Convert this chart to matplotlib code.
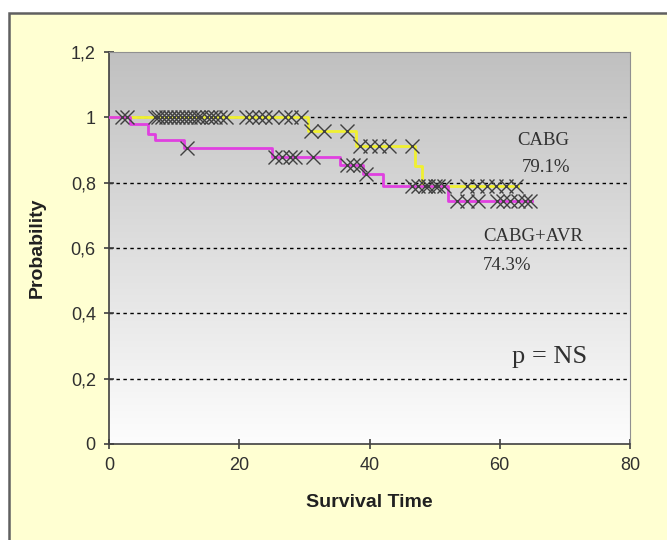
import numpy as np
import matplotlib
matplotlib.use("Agg")
import matplotlib.pyplot as plt
from matplotlib.colors import LinearSegmentedColormap
from matplotlib.patches import Rectangle
from matplotlib.ticker import FuncFormatter

# Kaplan-Meier steps: (time, survival after the drop)
cabg_t = [0, 30.5, 38, 47, 48, 62.8]
cabg_s = [1.0, 0.957, 0.913, 0.85, 0.791, 0.791]
avr_t = [0, 3.2, 6, 7, 11.5, 25, 35.5, 39, 42, 52, 65]
avr_s = [1.0, 0.98, 0.95, 0.93, 0.905, 0.88, 0.855, 0.825, 0.79, 0.743, 0.743]

# censored observations
cabg_cens_t = [2, 2.8, 7, 7.6, 8.2, 8.8, 9.4, 10, 10.6, 11.2, 11.8, 12.4,
               13, 13.6, 14.2, 15, 15.6, 16.2, 17, 18, 21, 22, 23, 24, 25,
               27, 28, 29.5, 31, 33, 36.5, 38.5, 40, 41.5, 43, 46.5,
               49, 50.5, 55, 56.5, 58, 59.5, 61, 62.5]
avr_cens_t = [12, 25.5, 26.5, 27.8, 28.6, 31.3, 36.5, 37.5, 38.5, 39.5,
              46.5, 47.5, 48.5, 50, 51.5, 53.5, 55, 56.7, 59.6, 60.5, 61.6,
              62.8, 63.9, 64.7]


def surv_at(ts, ss, t):
    idx = np.searchsorted(ts, t, side="right") - 1
    return ss[max(idx, 0)]


fig = plt.figure(figsize=(6.67, 5.4), dpi=100)
fig.patch.set_facecolor("white")
fig.patches.append(Rectangle((9 / 667, -0.1), 1.2, 1 - 13 / 540 + 0.1,
                             transform=fig.transFigure, facecolor="#FFFFD2",
                             edgecolor="#606060", linewidth=1.8, zorder=-5))

ax = fig.add_axes([109 / 667, 1 - 444 / 540, (630 - 109) / 667, (444 - 52) / 540])
ax.set_zorder(2)
ax.set_xlim(0, 80)
ax.set_ylim(0, 1.2)

# gray gradient background
ax.imshow(np.linspace(0, 1, 256).reshape(-1, 1), extent=[0, 80, 0, 1.2],
          aspect="auto", origin="lower", zorder=0,
          cmap=LinearSegmentedColormap.from_list("g", ["#FDFDFD", "#C0C0C0"]))

for y in [0.2, 0.4, 0.6, 0.8, 1.0]:
    ax.axhline(y, color="black", linewidth=1.0, linestyle=(0, (2.5, 2.5)), zorder=1)

ax.step(cabg_t, cabg_s, where="post", color="#F0F030", linewidth=2, zorder=2)
ax.step(avr_t, avr_s, where="post", color="#E040E0", linewidth=2, zorder=3)

ax.plot(cabg_cens_t, [surv_at(cabg_t, cabg_s, t) for t in cabg_cens_t], "x",
        color="#404040", markersize=10, markeredgewidth=1.0, zorder=4)
ax.plot(avr_cens_t, [surv_at(avr_t, avr_s, t) for t in avr_cens_t], "x",
        color="#404040", markersize=10, markeredgewidth=1.0, zorder=4)

for s in ["top", "right"]:
    ax.spines[s].set_color("#909090")
for s in ["left", "bottom"]:
    ax.spines[s].set_color("#404040")
    ax.spines[s].set_linewidth(1.2)

ax.set_xticks([0, 20, 40, 60, 80])
ax.set_yticks([0, 0.2, 0.4, 0.6, 0.8, 1.0, 1.2])
ax.yaxis.set_major_formatter(FuncFormatter(lambda v, p: f"{v:g}".replace(".", ",")))
ax.tick_params(direction="inout", length=7, width=1.2, color="#404040",
               labelsize=13, labelcolor="#303030", pad=6)
for lbl in ax.get_xticklabels() + ax.get_yticklabels():
    lbl.set_family("Liberation Sans")

ax.set_xlabel("Survival Time", fontsize=14, fontweight="bold",
              family="Liberation Sans", color="#202020", labelpad=14)
ax.set_ylabel("Probability", fontsize=14, fontweight="bold",
              family="Liberation Sans", color="#202020", labelpad=18)

serif = dict(family="Liberation Serif", color="#303030", ha="center", va="center")
ax.text(66.7, 0.93, "CABG", fontsize=13.5, **serif)
ax.text(67.1, 0.845, "79.1%", fontsize=13.5, **serif)
ax.text(65.1, 0.634, "CABG+AVR", fontsize=13.5, **serif)
ax.text(61.1, 0.545, "74.3%", fontsize=13.5, **serif)
ax.text(67.7, 0.266, "p = NS", fontsize=19, **serif)

fig.savefig("out.png", dpi=100)
